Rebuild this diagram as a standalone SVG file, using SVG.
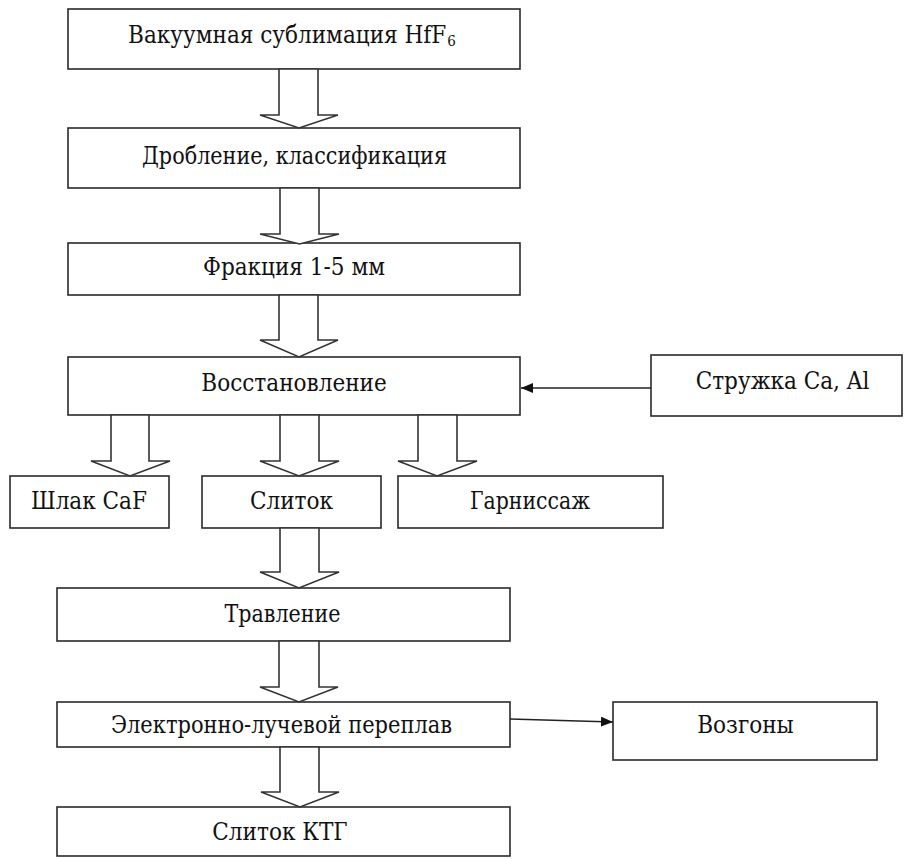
<svg xmlns="http://www.w3.org/2000/svg" width="904" height="859" viewBox="0 0 904 859">
<style>
.box{fill:#fff;stroke:#2a2a2a;stroke-width:1.6}
.blk{fill:#fff;stroke:#333;stroke-width:1.6;stroke-linejoin:miter}
.ln{fill:none;stroke:#222;stroke-width:1.4}
.t{font-family:"DejaVu Serif Condensed","DejaVu Serif",serif;font-stretch:condensed;font-size:24px;fill:#111;text-anchor:middle}
</style>
<defs>
<marker id="ah" viewBox="0 0 12 10" refX="12" refY="5" markerWidth="12" markerHeight="10" markerUnits="userSpaceOnUse" orient="auto">
<path d="M0,0 L12,5 L0,10 Z" fill="#111"/>
</marker>
</defs>
<rect width="904" height="859" fill="#fff"/>
<g id="nodes">
<g id="n1"><rect class="box" x="68" y="9" width="452" height="60"/><text class="t" x="292" y="43">Вакуумная сублимация HfF<tspan font-size="15" dx="1" dy="3">6</tspan></text></g>
<g id="n2"><rect class="box" x="68" y="128" width="452" height="60"/><text class="t" x="294.5" y="164" textLength="305" lengthAdjust="spacingAndGlyphs">Дробление, классификация</text></g>
<g id="n3"><rect class="box" x="68" y="243" width="452" height="52"/><text class="t" x="294" y="275">Фракция 1-5 мм</text></g>
<g id="n4"><rect class="box" x="68" y="357" width="452" height="58"/><text class="t" x="294" y="391">Восстановление</text></g>
<g id="n5"><rect class="box" x="651" y="355" width="251" height="61"/><text class="t" x="782.5" y="389">Стружка Ca, Al</text></g>
<g id="n6"><rect class="box" x="10" y="476" width="159" height="52"/><text class="t" x="89" y="509">Шлак CaF</text></g>
<g id="n7"><rect class="box" x="202" y="476" width="179" height="52"/><text class="t" x="291.5" y="509">Слиток</text></g>
<g id="n8"><rect class="box" x="398" y="476" width="265" height="52"/><text class="t" x="530" y="509" textLength="120" lengthAdjust="spacingAndGlyphs">Гарниссаж</text></g>
<g id="n9"><rect class="box" x="57" y="588" width="453" height="53"/><text class="t" x="282.5" y="622" textLength="116" lengthAdjust="spacingAndGlyphs">Травление</text></g>
<g id="n10"><rect class="box" x="57" y="702" width="453" height="45"/><text class="t" x="281.5" y="733" textLength="341" lengthAdjust="spacingAndGlyphs">Электронно-лучевой переплав</text></g>
<g id="n11"><rect class="box" x="613" y="702" width="264" height="58"/><text class="t" x="745.5" y="733">Возгоны</text></g>
<g id="n12"><rect class="box" x="57" y="807" width="453" height="49"/><text class="t" x="280" y="840">Слиток КТГ</text></g>
</g>
<g id="connectors">
<polygon class="blk" points="279,69 318,69 318,115 338,115 299,128 260,115 279,115"/>
<polygon class="blk" points="280,188 319,188 319,234 339,234 299.5,244 260,234 280,234"/>
<polygon class="blk" points="279,295 318,295 318,340 338,340 299,357 260,340 279,340"/>
<polygon class="blk" points="111,415 149,415 149,461 170,461 130,476 91,461 111,461"/>
<polygon class="blk" points="280,415 319,415 319,461 339,461 299,476 260,461 280,461"/>
<polygon class="blk" points="418,415 457,415 457,461 477,461 437,476 398,461 418,461"/>
<polygon class="blk" points="280,528 319,528 319,572 339,572 299,588 260,572 280,572"/>
<polygon class="blk" points="279,641 319,641 319,687 338,687 299,702 260,687 279,687"/>
<polygon class="blk" points="280,747 319,747 319,792 339,792 300,807 261,792 280,792"/>
<line class="ln" x1="651" y1="388" x2="521" y2="388" marker-end="url(#ah)"/>
<line class="ln" x1="510" y1="719" x2="613" y2="722" marker-end="url(#ah)"/>
</g>
</svg>
